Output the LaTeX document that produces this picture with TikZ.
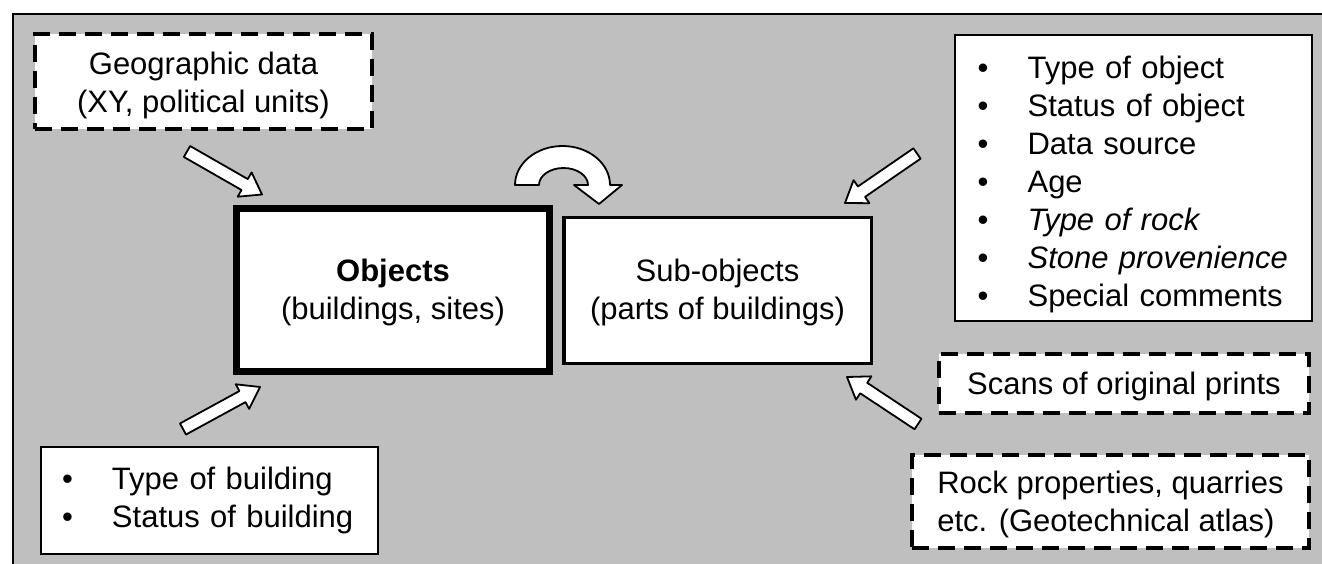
\documentclass[tikz,border=0pt]{standalone}
\usepackage{fontspec}
\setmainfont{Liberation Sans}
\usetikzlibrary{calc}

\tikzset{
  txt/.style={font=\fontsize{31}{38}\selectfont},
  databox/.style={txt, draw, fill=white, line width=2pt, inner sep=0pt},
  dashbox/.style={txt, draw, fill=white, line width=4pt, dash pattern=on 17pt off 9pt, align=center},
  mainbox/.style={txt, draw, fill=white, align=center},
  blockarr/.style={draw, fill=white, line width=1.8pt, line join=round},
}
\newcommand\bul{\makebox[50pt][l]{\textbullet}}
\newcommand\lift[1]{\rule{0pt}{#1}}
% straight block arrow between two named coordinates
\newcommand\blockarrow[2]{%
  \draw[blockarr]
    ($(#1)!6.3pt!90:(#2)$) --
    ($(#2)!20pt!(#1)!6.3pt!-90:(#1)$) --
    ($(#2)!20pt!(#1)!14pt!-90:(#1)$) --
    (#2) --
    ($(#2)!20pt!(#1)!14pt!90:(#1)$) --
    ($(#2)!20pt!(#1)!6.3pt!90:(#1)$) --
    ($(#1)!6.3pt!-90:(#2)$) -- cycle;}

\begin{document}
\begin{tikzpicture}[x=1pt, y=-1pt]
  \useasboundingbox (0,0) rectangle (1322,564);
  \fill[black!25] (13,14) rectangle (1322,564);
  \draw[line width=2pt] (13,564) -- (13,14) -- (1322,14);

  % boxes
  \node[dashbox, minimum width=337pt, minimum height=95pt] (geo) at (203.5,81.5)
    {\lift{31pt}Geographic data\\(XY, political units)};
  \node[mainbox, line width=7pt, minimum width=313pt, minimum height=163pt] (obj) at (393,290)
    {\lift{28pt}\textbf{Objects}\\(buildings, sites)};
  \node[mainbox, line width=3.5pt, minimum width=307.5pt, minimum height=145.5pt] (sub) at (717.5,290.5)
    {\lift{26pt}Sub-objects\\(parts of buildings)};
  \node[databox, text width=311.8pt, inner xsep=22.6pt, minimum height=286pt, align=left] (attr) at (1133.5,178)
    {\lift{35pt}\bul Type of object\\\bul Status of object\\\bul Data source\\\bul Age\\
     \bul\textit{Type of rock}\\\bul\textit{Stone provenience}\\\bul Special comments};
  \node[dashbox, minimum width=370pt, minimum height=59pt] (scans) at (1124,383.5)
    {\lift{29pt}Scans of original prints};
  \node[dashbox, minimum width=397pt, minimum height=93pt, align=left] (rock) at (1110.5,501.5)
    {\lift{29pt}Rock properties, quarries\\etc. (Geotechnical atlas)};
  \node[databox, text width=295pt, inner xsep=21pt, minimum height=107pt, align=left] (bldg) at (209.5,500.5)
    {\bul Type of building\\\bul Status of building};

  % arrows
  \coordinate (geoA) at (187,151.5);  \coordinate (geoB) at (262,194.5);
  \coordinate (attrA) at (917,153.5); \coordinate (attrB) at (845,203);
  \coordinate (scansA) at (918,424);  \coordinate (scansB) at (847,377);
  \coordinate (bldgA) at (183,429);   \coordinate (bldgB) at (260,387);
  \blockarrow{geoA}{geoB}
  \blockarrow{attrA}{attrB}
  \blockarrow{scansA}{scansB}
  \blockarrow{bldgA}{bldgB}

  \draw[blockarr] (515,185) arc[start angle=180, end angle=0, x radius=47.5pt, y radius=39pt]
    -- (622,185) -- (599,204) -- (574,185) -- (588,185)
    arc[start angle=0, end angle=180, x radius=24.5pt, y radius=17pt] -- cycle;
\end{tikzpicture}
\end{document}
